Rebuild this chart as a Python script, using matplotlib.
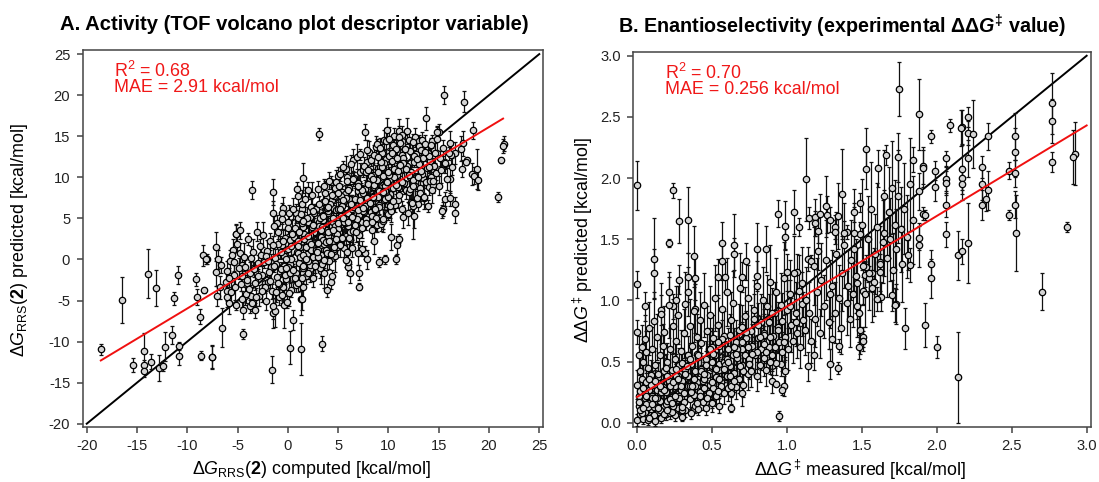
"""Activity and enantioselectivity parity plots"""
import matplotlib
matplotlib.use('Agg')
import matplotlib.pyplot as plt

plt.rcParams['font.family'] = ['Liberation Sans', 'DejaVu Sans']
plt.rcParams['mathtext.fontset'] = 'custom'
plt.rcParams['mathtext.rm'] = 'Liberation Sans'
plt.rcParams['mathtext.it'] = 'Liberation Sans:italic'
plt.rcParams['mathtext.bf'] = 'Liberation Sans:bold'
plt.rcParams['mathtext.bfit'] = 'Liberation Sans:italic:bold'
plt.rcParams['axes.unicode_minus'] = False

# Panel A: separated points
a_x = [-18.6,-16.5,-15.4,-14.3,-14.3,-14.3,-13.9,-13.6,-13.1,-12.8,-12.4,-12.2,-11.5,-11.3,-10.9,-10.8,-10.8,
       -9.1,-9.0,-8.7,-8.6,-8.4,-8.3,-8.0,-8.1,-7.5,-7.5,-7.1,-7.1,-7.0,-6.9,-6.7,-6.6,-6.5,-6.2,-6.1,-6.1,-6.1,
       -5.9,-5.8,-5.7,-5.5,-5.4,-5.4,-5.2,-5.2,-4.8,-4.55,-4.55,-4.5,-4.5,-4.3,-4.1,-3.8,-3.65,-3.25,-1.55,-1.5,
       -1.3,-0.4,0.25,0.5,1.3,1.3,1.5,3.4,7.1,3.9,4.3,4.4,1.4,6.2,7.1,9.1,9.7,10.8,10.9,11.1,10.3,8.6,7.9,7.7,7.4,
       7.0,6.0,5.95,5.8,5.6,6.4,4.7,4.6,4.4,3.3,3.6,3.9,2.2,1.5,
       3.1,15.5,17.5,13.7,18.4,15.0,14.8,7.7,9.9,10.6,11.1,11.8,11.3,12.65,9.6,13.05,21.5,21.4,21.2,20.9,17.45,
       17.2,16.1,16.6,16.2,17.8,17.7,17.3,16.3,15.6,18.8,18.35,18.5,18.9,16.1,15.6,16.1,16.6,16.6,15.45,15.3,
       13.5,13.9,12.9,12.4,12.55,-3.6,-1.5,-1.5,1.55,0.9,1.0,2.0,-0.5,-0.6,0.8,1.45,-5.2,-4.8,-1.1,0.05]
a_y = [-10.95,-4.95,-12.86,-11.15,-12.9,-13.55,-1.75,-12.45,-3.5,-13.2,-13.0,-10.6,-9.2,-4.75,-1.85,-10.55,-11.8,
       -2.4,-4.6,-6.95,-11.7,0.5,-3.75,0.1,0.0,-11.85,-11.9,1.55,-1.5,-4.45,0.0,-3.4,-0.65,-8.3,-2.7,-1.4,-3.8,-4.55,
       -5.3,-0.2,-4.0,1.15,-0.3,-1.9,-5.6,3.1,0.75,-0.7,-2.0,-6.1,-9.1,-4.5,-2.85,-5.7,-4.5,-6.2,-13.4,-6.55,
       -6.25,-5.6,-10.75,-7.4,-10.9,-4.8,-3.3,-10.25,-3.3,-3.75,-2.8,-2.0,-4.8,-1.7,-1.6,-0.35,0.0,0.0,1.8,2.55,2.7,2.2,0.0,0.8,1.3,
       0.8,-0.9,-0.3,-0.1,1.35,1.35,0.4,1.0,2.85,-1.4,-1.7,-0.1,-1.4,-1.7,
       15.3,20.05,19.2,17.2,15.7,15.5,15.5,15.5,15.75,15.0,15.65,15.65,15.2,14.85,14.5,14.4,14.1,13.8,12.1,7.6,14.15,
       13.5,14.15,12.95,12.75,12.1,11.85,11.05,11.3,11.6,11.0,10.4,10.2,9.7,9.8,7.35,7.45,6.7,5.7,6.15,5.85,
       7.45,6.5,6.8,6.5,5.3,8.4,8.2,5.6,9.9,8.6,7.75,8.4,6.3,5.6,5.6,6.1,3.15,3.55,4.4,4.6]
a_err = [0.7,2.8,0.9,2.2,0.7,0.8,3.0,0.9,2.2,1.6,0.6,1.8,1.1,0.8,1.1,0.5,1.0,
         0.8,1.0,0.9,0.6,1.3,0.3,0.6,0.6,1.4,1.4,1.8,1.7,1.2,1.2,1.4,1.0,2.4,1.3,1.2,1.2,1.2,
         1.3,1.4,1.2,1.3,1.1,1.2,0.5,1.2,1.2,1.1,1.0,1.1,0.6,1.1,0.9,0.8,1.0,0.9,1.7,1.8,
         2.0,2.8,2.0,1.2,3.2,2.0,1.8,0.9,0.4,0.8,0.8,0.7,1.4,1.2,0.9,0.6,0.6,0.6,1.1,0.6,1.6,1.5,1.2,0.8,0.9,
         1.5,1.0,0.9,0.8,1.0,1.0,1.9,1.2,1.1,1.6,1.8,1.2,1.0,0.9,
         0.7,1.1,1.3,1.4,1.0,1.0,0.8,1.0,1.5,1.0,1.5,1.6,1.0,1.1,1.2,0.8,0.9,0.9,0.3,0.6,1.5,
         1.5,1.5,1.3,1.2,0.3,0.4,1.0,1.0,0.6,2.4,1.3,1.0,1.2,1.7,0.9,0.9,0.9,1.3,0.9,0.8,
         0.7,0.7,0.9,4.0,1.5,1.1,1.6,1.5,1.8,0.8,1.2,1.0,1.3,1.3,1.2,1.0,1.0,1.0,1.0,1.0]

# Panel A: the dense cloud, estimated
a_cloud_x = [-5.9,-5.6,-5.3,-5.1,-4.9,-4.7,-4.4,-4.2,-4.0,-3.8,-3.6,-3.5,-3.3,-3.1,-3.0,
             -2.9,-2.8,-2.6,-2.5,-2.4,-2.2,-2.1,-2.0,-1.8,-1.7,-1.6,-1.4,-1.3,-1.1,-1.0,
             -0.9,-0.8,-0.7,-0.6,-0.5,-0.4,-0.3,-0.2,-0.1,0.0,0.1,0.2,0.3,0.4,0.5,
             0.1,0.2,0.3,0.5,0.6,0.7,0.8,0.9,1.0,1.1,1.2,1.3,1.4,1.5,1.5,
             1.0,1.2,1.3,1.5,1.6,1.7,1.8,1.9,2.0,2.1,2.2,2.3,2.4,2.5,2.5,
             2.0,2.2,2.3,2.4,2.6,2.7,2.8,2.9,3.0,3.1,3.2,3.3,3.4,3.5,3.5,
             3.0,3.1,3.3,3.4,3.5,3.6,3.7,3.8,3.9,4.0,4.1,4.2,4.3,4.4,4.5,
             3.6,3.7,3.8,3.9,4.0,4.1,4.3,4.4,4.5,4.6,4.7,4.8,4.9,5.0,5.0,
             4.5,4.6,4.7,4.8,4.9,5.0,5.1,5.2,5.3,5.4,5.5,5.6,5.7,5.8,5.9,
             5.0,5.1,5.2,5.4,5.5,5.6,5.7,5.8,5.9,6.0,6.1,6.2,6.3,6.4,6.5,
             6.0,6.1,6.2,6.3,6.4,6.5,6.6,6.7,6.8,6.9,7.0,7.1,7.2,7.3,7.4,
             7.0,7.1,7.2,7.3,7.4,7.5,7.6,7.7,7.8,7.9,8.0,8.1,8.2,8.3,8.4,
             7.5,7.6,7.7,7.8,7.9,8.0,8.2,8.3,8.4,8.5,8.6,8.7,8.8,8.9,9.0,
             8.5,8.6,8.7,8.8,8.9,9.0,9.1,9.2,9.3,9.4,9.5,9.6,9.7,9.8,9.9,
             9.0,9.1,9.2,9.4,9.5,9.6,9.7,9.8,9.9,10.0,10.1,10.2,10.3,10.4,10.5,
             10.0,10.1,10.2,10.3,10.4,10.5,10.6,10.7,10.8,10.9,11.0,11.1,11.2,11.3,11.4,
             11.0,11.1,11.2,11.3,11.4,11.5,11.6,11.7,11.8,11.9,12.0,12.1,12.2,12.3,12.4,
             12.0,12.1,12.2,12.3,12.4,12.5,12.6,12.7,12.8,12.9,13.0,13.1,13.2,13.3,13.4,
             13.0,13.1,13.2,13.3,13.4,13.5,13.6,13.7,13.8,13.9,14.0,14.1,14.2,14.3,14.4,
             14.0,14.1,14.2,14.3,14.5,14.6,14.7,14.8,15.0,15.1,15.2,15.4,15.6,15.8,16.0,
             # tighter part of the band
             -4.6,-4.3,-4.1,-3.9,-3.7,-3.4,-3.2,-2.7,-2.3,-1.9,-1.5,-1.2,-0.9,-0.6,-0.3,
             -3.0,-2.6,-2.2,-1.8,-1.4,-1.0,-0.6,-0.2,0.2,0.6,1.0,1.4,1.8,2.2,2.6,
             -2.0,-1.5,-1.0,-0.5,0.0,0.4,0.8,1.2,1.6,2.0,2.4,2.8,3.2,3.6,4.0,
             -1.2,-0.7,-0.2,0.3,0.7,1.1,1.5,1.9,2.3,2.7,3.1,3.5,3.9,4.3,4.7,
             0.0,0.5,1.0,1.4,1.8,2.2,2.6,3.0,3.4,3.8,4.2,4.6,5.0,5.4,5.8,
             1.0,1.5,2.0,2.5,2.9,3.3,3.7,4.1,4.5,4.9,5.3,5.7,6.1,6.5,6.9,
             2.5,3.0,3.5,4.0,4.4,4.8,5.2,5.6,6.0,6.4,6.8,7.2,7.6,8.0,8.4,
             4.0,4.5,5.0,5.5,5.9,6.3,6.7,7.1,7.5,7.9,8.3,8.7,9.1,9.5,9.9,
             5.5,6.0,6.5,7.0,7.4,7.8,8.2,8.6,9.0,9.4,9.8,10.2,10.6,11.0,11.4,
             7.0,7.5,8.0,8.5,8.9,9.3,9.7,10.1,10.5,10.9,11.3,11.7,12.1,12.5,12.9,
             8.5,9.0,9.5,10.0,10.4,10.8,11.2,11.6,12.0,12.4,12.8,13.2,13.6,14.0,14.4]
a_cloud_y = [-2.2,0.6,-3.4,1.9,-1.1,-3.0,0.3,-4.2,2.5,-1.7,-5.3,0.9,-2.9,3.4,-0.4,
             -4.4,1.6,-1.9,3.0,-0.3,-5.0,1.0,-2.8,2.2,-0.9,-3.9,4.1,0.2,-2.1,3.3,
             -4.6,1.5,-1.2,4.9,-3.3,0.4,2.6,-2.4,-5.2,1.3,5.6,-0.6,-3.7,3.4,-1.6,
             -4.1,2.4,0.1,6.2,-1.8,3.8,-3.1,0.9,5.1,-0.4,-2.6,2.1,6.8,-1.1,4.0,
             -2.9,1.5,5.5,-0.8,3.1,7.3,-2.0,0.7,4.6,2.2,-1.2,6.4,3.6,0.3,-2.3,
             -1.6,5.2,1.1,7.9,3.3,-0.4,6.1,2.0,8.6,4.5,-1.1,0.6,3.0,7.0,5.4,
             0.3,6.7,2.7,-0.6,4.8,8.9,3.5,1.2,7.6,5.6,-0.2,2.4,9.4,4.1,6.3,
             1.9,8.1,3.6,0.8,5.9,9.6,2.6,7.2,4.5,1.3,8.7,6.0,3.2,10.2,5.0,
             2.2,7.7,4.1,9.4,1.5,6.1,3.3,10.4,5.3,8.2,2.6,7.1,4.4,11.0,0.9,
             3.7,9.0,1.8,6.5,11.2,4.7,8.0,2.9,10.0,5.6,7.3,3.4,9.5,6.4,12.1,
             4.1,8.7,2.5,11.6,6.1,3.5,9.9,7.4,5.0,12.5,8.3,3.0,10.7,6.7,4.6,
             9.3,5.4,12.8,7.8,3.8,10.9,6.2,8.6,4.9,11.9,7.0,13.1,9.8,5.8,3.6,
             8.1,11.4,6.5,4.4,13.3,9.2,7.4,12.1,5.3,10.3,8.8,6.0,13.7,4.2,11.1,
             7.7,12.7,9.6,5.0,14.0,8.5,6.6,11.3,4.3,13.0,10.1,7.2,9.0,12.2,5.7,
             10.7,6.4,13.6,8.3,4.7,11.8,7.3,14.4,9.4,5.5,12.6,8.0,10.2,6.9,13.9,
             7.6,14.7,9.8,5.9,12.0,8.7,11.0,6.6,13.4,10.3,7.2,14.9,9.1,12.7,5.2,
             10.8,7.9,14.2,6.1,12.4,9.3,13.5,8.4,11.4,5.6,14.6,10.0,7.0,12.9,9.7,
             8.2,13.2,10.6,6.9,14.3,11.9,9.0,12.8,7.5,10.2,13.8,8.7,11.2,14.5,9.9,
             11.6,8.1,13.3,10.4,12.4,7.6,14.1,9.4,11.1,13.0,8.8,12.0,10.0,14.4,9.1,
             12.6,9.6,13.9,8.4,11.4,13.0,10.5,14.7,9.0,12.3,10.9,13.6,11.7,9.8,12.9,
             # tighter part of the band
             -4.8,-0.9,-2.5,-3.6,0.2,-1.2,-4.6,0.5,-3.3,-1.5,-5.7,-0.5,-3.0,1.7,-1.9,
             -2.0,-3.9,0.4,-2.6,-0.8,1.9,-4.3,0.0,-1.7,2.7,0.8,-2.2,1.5,-0.7,3.8,
             -0.2,1.8,-2.9,2.3,-0.9,3.1,-1.6,0.3,2.5,-0.2,4.0,1.2,5.0,-0.1,2.8,
             -4.0,0.9,-1.0,1.6,-2.3,3.4,0.5,5.1,1.9,-0.8,4.1,2.4,6.3,0.7,3.2,
             3.8,-1.3,2.2,4.4,0.1,3.0,5.6,1.1,3.9,2.1,6.7,1.5,4.4,2.6,7.5,
             1.6,4.7,2.8,5.9,0.9,3.6,7.1,2.3,5.0,3.1,7.7,4.4,2.6,6.4,4.9,
             4.2,2.0,5.3,3.4,7.8,2.5,6.1,4.5,8.4,5.2,3.3,7.2,5.8,9.2,4.6,
             6.4,3.6,8.1,5.0,9.5,6.8,4.2,8.8,5.9,7.5,10.2,6.2,8.3,4.9,9.4,
             7.2,4.6,9.8,6.0,8.4,10.6,6.9,9.1,7.6,11.2,8.2,6.5,10.0,8.8,11.8,
             8.9,6.3,10.9,7.6,9.7,11.9,8.3,10.3,7.1,12.3,9.4,11.0,8.6,12.6,10.0,
             9.8,12.5,8.2,10.7,12.9,9.1,11.5,13.5,10.3,8.9,12.2,10.8,13.1,11.3,9.5]
a_cloud_err = [1.2,0.8,1.5,1.0,1.3,0.9,1.7,1.1,0.7,1.4,1.0,1.6,0.8,1.2,1.0,
               1.3,0.9,1.1,1.5,0.8,1.2,1.4,0.7,1.0,1.6,0.9,1.2,1.1,1.3,0.8,
               1.0,1.4,0.9,1.2,1.7,0.8,1.1,1.3,0.7,1.5,1.0,1.2,0.9,1.4,1.1,
               1.6,0.8,1.2,1.3,1.0,1.5,0.9,1.1,0.7,1.4,1.2,1.0,1.6,0.8,1.3,
               1.1,0.9,1.4,1.2,0.8,1.5,1.0,1.3,0.7,1.1,1.6,0.9,1.2,1.4,1.0,
               0.8,1.3,1.1,1.5,0.9,1.2,0.7,1.4,1.0,1.6,1.1,0.8,1.3,1.2,0.9,
               1.5,1.0,0.8,1.2,1.4,0.9,1.1,1.7,0.7,1.3,1.0,1.5,0.8,1.2,1.1,
               0.9,1.4,1.2,0.7,1.6,1.0,1.3,0.8,1.1,1.5,0.9,1.2,1.4,1.0,0.7,
               1.3,0.8,1.1,1.5,1.0,1.2,1.7,0.9,1.4,0.7,1.1,1.3,0.8,1.6,1.0,
               1.2,0.9,1.5,1.0,0.8,1.3,1.1,1.6,0.7,1.4,1.2,0.9,1.0,1.5,1.3,
               0.8,1.2,1.4,1.1,0.9,1.6,0.7,1.3,1.0,1.5,0.8,1.2,1.1,1.4,0.9,
               1.3,1.0,0.7,1.5,1.2,0.9,1.4,1.1,0.8,1.6,1.0,1.3,0.7,1.2,1.5,
               0.9,1.1,1.4,0.8,1.3,1.0,1.6,0.7,1.2,1.5,0.9,1.1,1.3,0.8,1.4,
               1.0,1.2,0.9,1.5,0.7,1.3,1.1,1.6,0.8,1.0,1.4,1.2,0.9,1.3,0.7,
               1.5,1.0,1.2,0.8,1.4,1.1,0.9,1.6,1.3,0.7,1.0,1.2,1.5,0.8,1.1,
               0.9,1.4,0.7,1.3,1.1,1.6,1.0,0.8,1.2,1.5,0.9,1.3,1.1,0.7,1.4,
               1.2,0.8,1.5,1.0,0.9,1.3,1.7,1.1,0.7,1.4,1.0,1.2,0.9,1.6,0.8,
               1.3,1.1,0.9,1.4,1.0,0.7,1.5,1.2,0.8,1.3,1.1,1.6,0.9,1.0,1.2,
               0.8,1.4,1.1,0.9,1.2,1.5,1.0,0.7,1.3,1.1,0.9,1.4,1.2,0.8,1.0,
               1.1,1.3,0.9,1.5,1.0,1.2,0.8,1.4,1.1,0.9,1.6,1.0,1.2,1.3,0.8,
               # tighter part of the band
               1.0,0.8,1.2,0.7,1.4,0.9,1.1,1.3,0.8,1.0,1.5,0.7,1.2,0.9,1.1,
               0.8,1.3,0.9,1.1,0.7,1.4,1.0,0.8,1.2,0.9,1.5,0.7,1.1,1.0,1.3,
               0.9,1.1,0.8,1.3,1.0,0.7,1.4,0.9,1.2,0.8,1.1,1.5,0.7,1.0,1.3,
               1.2,0.7,1.0,1.4,0.8,1.1,0.9,1.3,0.7,1.2,1.0,0.8,1.5,0.9,1.1,
               0.7,1.3,0.9,1.1,1.4,0.8,1.0,1.2,0.7,1.5,0.9,1.1,0.8,1.3,1.0,
               1.1,0.8,1.4,0.9,1.2,0.7,1.0,1.3,0.8,1.1,1.5,0.9,1.2,0.7,1.0,
               0.9,1.2,0.7,1.3,1.0,0.8,1.4,1.1,0.9,0.7,1.2,1.5,0.8,1.0,1.3,
               1.3,0.9,1.1,0.7,1.2,1.0,0.8,1.4,0.9,1.1,0.7,1.3,1.0,1.2,0.8,
               0.8,1.1,0.9,1.4,0.7,1.2,1.0,0.8,1.3,0.9,1.1,1.5,0.7,1.0,1.2,
               1.0,1.3,0.8,1.1,0.9,0.7,1.4,1.0,1.2,0.8,1.1,0.9,1.3,0.7,1.0,
               1.2,0.7,1.0,0.9,1.3,1.1,0.8,1.2,0.7,1.4,1.0,0.9,1.1,0.8,1.2]

# Panel B: separated points
b_x = [1.75,1.88,1.53,1.53,1.66,1.74,1.84,1.61,1.96,2.09,2.17,2.16,2.21,2.21,2.24,2.34,2.21,2.17,2.17,2.17,
       2.06,2.06,2.06,2.06,2.06,1.99,1.99,1.91,1.91,1.88,1.91,1.92,2.3,2.3,2.34,2.33,2.3,2.48,2.48,2.52,2.52,
       2.52,2.52,2.53,2.77,2.77,2.77,2.92,2.91,2.87,
       2.70,2.14,2.0,1.92,1.79,1.96,1.96,2.14,2.17,2.21,1.88,1.88,1.82,1.81,1.73,1.72,1.7,1.63,1.6,1.51,1.51,1.51,
       1.49,1.48,1.62,1.62,1.57,1.53,1.52,1.55,1.58,
       0.95,0.0,0.21,0.11,0.11,0.0,0.57,0.65,0.65,0.38,0.8,0.86,0.73,0.57,0.28,0.21,0.34,0.39,0.34,0.05,0.16,0.26,
       0.24,0.39,0.54,0.59,0.7,0.8,1.0,1.07,1.14,1.16,1.21,1.29,1.34,1.35,1.14,1.18,0.9,0.93,0.98,0.97,0.99,0.96,
       0.93,0.89,0.63,0.63,0.7,0.5,0.46,
       0.0,0.24,0.28,0.34,0.94,0.99,1.05,1.08,1.13,1.15,1.19,1.22,1.19,1.21,1.26,1.27,1.29,1.34,1.37,1.32,1.32,
       1.45,1.49,1.49,1.4,1.38,0.99]
b_y = [2.73,2.52,2.24,2.07,2.19,2.17,2.15,2.08,2.34,2.43,2.42,2.41,2.5,2.37,2.36,2.34,2.16,2.07,2.0,1.95,
       2.16,1.99,1.96,1.78,1.54,2.06,1.93,2.1,2.08,1.89,1.71,1.7,2.09,1.95,1.9,1.83,1.78,2.06,1.7,2.34,2.21,
       2.04,1.78,1.55,2.61,2.47,2.13,2.2,2.17,1.6,
       1.07,0.37,0.62,0.8,0.77,1.18,1.3,1.37,1.4,1.47,1.51,1.45,1.29,1.37,0.97,0.96,1.04,1.03,1.01,1.08,0.7,0.67,
       0.76,0.62,1.23,1.31,1.22,1.27,1.21,1.18,1.15,
       0.055,1.13,1.47,1.34,1.22,0.74,1.47,1.45,1.38,1.36,1.42,1.42,1.32,1.32,1.17,1.07,1.19,1.18,1.07,0.95,0.92,1.0,
       0.95,0.93,1.19,1.19,1.19,1.2,1.23,1.23,1.34,1.32,1.4,0.48,0.45,0.63,0.46,0.55,0.34,0.32,0.3,0.27,0.42,0.48,
       0.49,0.5,0.12,0.24,0.24,0.17,0.17,
       1.94,1.9,1.65,1.66,1.71,1.61,1.72,1.6,1.99,1.67,1.68,1.71,1.63,1.57,1.77,1.7,1.66,1.69,1.87,1.6,1.56,
       1.72,1.8,1.54,1.56,1.55,1.52]
b_err = [0.22,0.29,0.17,0.16,0.08,0.2,0.1,0.15,0.05,0.05,0.14,0.15,0.08,0.1,0.28,0.11,0.15,0.2,0.1,0.13,
         0.06,0.1,0.1,0.1,0.1,0.08,0.12,0.15,0.15,0.15,0.05,0.04,0.09,0.13,0.16,0.1,0.12,0.07,0.04,0.19,0.2,
         0.11,0.11,0.31,0.25,0.18,0.08,0.26,0.22,0.04,
         0.15,0.37,0.09,0.18,0.17,0.16,0.11,0.2,0.1,0.33,0.1,0.18,0.14,0.12,0.16,0.14,0.13,0.12,0.1,0.11,0.08,0.08,
         0.2,0.1,0.15,0.1,0.15,0.1,0.1,0.1,0.28,
         0.04,0.11,0.03,0.33,0.2,0.1,0.17,0.26,0.13,0.25,0.21,0.19,0.15,0.15,0.12,0.12,0.2,0.18,0.2,0.12,0.12,0.12,
         0.1,0.2,0.15,0.12,0.12,0.12,0.15,0.15,0.1,0.05,0.15,0.12,0.05,0.05,0.12,0.12,0.1,0.02,0.08,0.04,0.12,0.1,
         0.1,0.1,0.03,0.1,0.1,0.05,0.07,
         0.2,0.06,0.18,0.27,0.11,0.2,0.18,0.07,0.34,0.09,0.15,0.16,0.1,0.1,0.25,0.15,0.1,0.27,0.37,0.1,0.1,
         0.08,0.08,0.1,0.06,0.1,0.1]

# Panel B: the dense cloud, estimated
b_cloud_x = [0.0,0.0,0.01,0.01,0.01,0.02,0.02,0.02,0.03,0.03,0.03,0.04,0.04,0.05,0.05,
             0.05,0.06,0.06,0.07,0.07,0.07,0.08,0.08,0.09,0.09,0.1,0.1,0.1,0.11,0.11,
             0.11,0.12,0.12,0.13,0.13,0.14,0.14,0.15,0.15,0.16,0.16,0.17,0.17,0.18,0.18,
             0.18,0.19,0.19,0.2,0.2,0.21,0.21,0.22,0.22,0.23,0.23,0.24,0.24,0.25,0.25,
             0.25,0.26,0.26,0.27,0.27,0.28,0.28,0.29,0.29,0.3,0.3,0.31,0.31,0.32,0.32,
             0.32,0.33,0.34,0.34,0.35,0.35,0.36,0.36,0.37,0.37,0.38,0.38,0.39,0.39,0.4,
             0.4,0.41,0.41,0.42,0.42,0.43,0.43,0.44,0.44,0.45,0.45,0.46,0.46,0.47,0.47,
             0.47,0.48,0.49,0.49,0.5,0.5,0.51,0.51,0.52,0.52,0.53,0.53,0.54,0.55,0.55,
             0.55,0.56,0.57,0.57,0.58,0.58,0.59,0.6,0.6,0.61,0.61,0.62,0.63,0.63,0.64,
             0.64,0.65,0.66,0.66,0.67,0.68,0.68,0.69,0.7,0.7,0.71,0.72,0.72,0.73,0.74,
             0.74,0.75,0.76,0.76,0.77,0.78,0.79,0.8,0.8,0.81,0.82,0.83,0.83,0.84,0.85,
             0.85,0.86,0.87,0.88,0.88,0.89,0.9,0.91,0.92,0.92,0.93,0.94,0.95,0.96,0.97,
             0.97,0.98,0.99,1.0,1.01,1.02,1.03,1.04,1.05,1.06,1.07,1.08,1.09,1.1,1.11,
             1.1,1.12,1.13,1.15,1.16,1.18,1.19,1.2,1.22,1.23,1.25,1.26,1.28,1.29,1.3,
             1.3,1.32,1.33,1.35,1.36,1.37,1.38,1.4,1.41,1.42,1.43,1.44,1.45,1.46,1.47,
             1.45,1.47,1.48,1.5,1.51,1.52,1.54,1.55,1.56,1.57,1.59,1.6,1.62,1.64,1.65,
             1.65,1.67,1.68,1.69,1.7,1.71,1.72,1.73,1.74,1.76,1.77,1.78,1.8,1.82,1.84,
             # tighter low end
             0.01,0.03,0.05,0.07,0.09,0.11,0.13,0.15,0.17,0.19,0.21,0.23,0.25,0.27,0.29,
             0.02,0.04,0.06,0.08,0.1,0.12,0.14,0.16,0.18,0.2,0.22,0.24,0.26,0.28,0.3,
             0.04,0.08,0.12,0.16,0.2,0.24,0.28,0.32,0.36,0.4,0.44,0.48,0.52,0.56,0.6,
             0.06,0.1,0.14,0.18,0.22,0.26,0.3,0.34,0.38,0.42,0.46,0.5,0.54,0.58,0.62,
             0.15,0.19,0.23,0.27,0.31,0.35,0.39,0.43,0.47,0.51,0.55,0.59,0.63,0.67,0.71,
             0.2,0.25,0.3,0.35,0.4,0.45,0.5,0.55,0.6,0.65,0.7,0.75,0.8,0.85,0.9,
             0.33,0.37,0.41,0.45,0.49,0.53,0.57,0.61,0.65,0.69,0.73,0.77,0.81,0.85,0.89,
             0.5,0.54,0.58,0.62,0.66,0.7,0.74,0.78,0.82,0.86,0.9,0.94,0.98,1.02,1.06]
b_cloud_y = [0.02,0.31,0.14,0.55,0.22,0.07,0.42,0.26,0.62,0.12,0.36,0.03,0.5,0.2,0.68,
             0.09,0.33,0.58,0.16,0.45,0.02,0.27,0.77,0.11,0.39,0.6,0.05,0.22,0.83,0.31,
             0.13,0.47,0.01,0.27,0.7,0.09,0.37,0.55,0.18,0.89,0.04,0.29,0.63,0.14,0.42,
             0.74,0.07,0.25,0.5,0.16,0.96,0.34,0.08,0.6,0.21,0.43,0.13,0.79,0.3,0.52,
             0.06,0.67,0.2,0.38,0.88,0.13,0.47,0.27,0.59,0.05,0.34,0.73,0.17,0.44,0.97,
             0.1,0.29,0.55,0.38,0.79,0.19,0.48,0.08,0.63,0.31,0.91,0.23,0.42,0.14,0.7,
             0.33,0.54,0.11,0.84,0.25,0.44,0.65,0.17,0.36,0.96,0.28,0.52,0.12,0.75,0.39,
             0.2,0.6,0.31,0.88,0.46,0.16,0.69,0.28,0.55,1.02,0.37,0.22,0.8,0.48,0.14,
             0.63,0.33,0.93,0.43,0.24,0.71,0.52,0.37,1.07,0.28,0.6,0.46,0.84,0.32,0.55,
             0.98,0.41,0.66,0.29,0.53,0.76,0.36,1.1,0.47,0.6,0.31,0.87,0.55,0.69,0.4,
             1.02,0.52,0.75,0.42,0.63,0.92,0.55,0.38,1.12,0.69,0.47,0.82,0.6,1.0,0.53,
             0.73,0.43,0.95,0.62,0.82,1.15,0.55,0.71,0.9,0.62,1.07,0.78,0.66,0.96,0.58,
             0.83,1.18,0.7,0.92,0.6,1.05,0.8,0.67,1.22,0.9,0.73,1.08,0.62,0.97,0.84,
             1.14,0.76,1.0,0.9,0.67,1.28,0.85,1.07,0.73,1.17,0.95,1.33,0.82,1.05,0.68,
             1.12,0.9,1.38,1.02,0.77,1.22,1.45,0.98,1.12,0.85,1.33,1.05,1.55,1.2,0.95,
             1.42,1.14,0.9,1.62,1.28,1.05,1.5,1.22,1.75,1.1,1.38,1.6,1.3,1.48,1.85,
             1.55,1.35,1.72,1.5,1.92,1.25,1.62,1.42,1.85,1.58,1.3,1.75,1.52,1.95,1.66,
             # tighter low end
             0.17,0.08,0.24,0.13,0.31,0.06,0.2,0.1,0.27,0.15,0.34,0.09,0.22,0.12,0.3,
             0.1,0.28,0.15,0.04,0.2,0.34,0.12,0.25,0.07,0.18,0.3,0.14,0.38,0.22,0.1,
             0.12,0.36,0.2,0.28,0.1,0.33,0.2,0.4,0.25,0.16,0.34,0.24,0.45,0.3,0.38,
             0.22,0.15,0.4,0.27,0.19,0.44,0.13,0.3,0.36,0.22,0.47,0.33,0.26,0.5,0.38,
             0.3,0.45,0.16,0.36,0.24,0.52,0.3,0.42,0.2,0.56,0.36,0.47,0.3,0.6,0.42,
             0.38,0.22,0.49,0.3,0.56,0.36,0.62,0.43,0.52,0.34,0.66,0.48,0.58,0.72,0.55,
             0.46,0.3,0.55,0.4,0.6,0.44,0.68,0.5,0.62,0.46,0.74,0.56,0.8,0.64,0.7,
             0.5,0.66,0.44,0.72,0.56,0.78,0.62,0.85,0.7,0.58,0.9,0.76,0.66,0.95,0.82]
b_cloud_err = [0.05,0.12,0.07,0.16,0.09,0.04,0.14,0.08,0.18,0.06,0.11,0.04,0.15,0.07,0.2,
               0.05,0.1,0.17,0.06,0.13,0.04,0.09,0.22,0.05,0.12,0.18,0.04,0.08,0.24,0.1,
               0.06,0.14,0.04,0.09,0.19,0.05,0.12,0.16,0.07,0.25,0.04,0.1,0.18,0.06,0.13,
               0.21,0.05,0.09,0.15,0.07,0.27,0.11,0.05,0.17,0.08,0.13,0.06,0.22,0.1,0.15,
               0.05,0.19,0.08,0.12,0.24,0.06,0.14,0.1,0.17,0.04,0.11,0.2,0.07,0.13,0.26,
               0.05,0.1,0.16,0.12,0.22,0.08,0.14,0.05,0.18,0.1,0.25,0.08,0.13,0.06,0.19,
               0.11,0.16,0.05,0.23,0.09,0.13,0.18,0.07,0.11,0.26,0.1,0.15,0.06,0.2,0.12,
               0.08,0.17,0.1,0.24,0.14,0.07,0.19,0.1,0.16,0.27,0.12,0.08,0.22,0.14,0.06,
               0.18,0.11,0.25,0.13,0.09,0.2,0.15,0.12,0.28,0.1,0.17,0.14,0.23,0.11,0.16,
               0.26,0.13,0.18,0.1,0.15,0.21,0.12,0.29,0.14,0.17,0.1,0.24,0.16,0.19,0.13,
               0.27,0.15,0.21,0.13,0.18,0.25,0.16,0.12,0.3,0.19,0.14,0.23,0.17,0.27,0.15,
               0.2,0.13,0.26,0.17,0.23,0.3,0.16,0.2,0.25,0.17,0.28,0.21,0.18,0.26,0.16,
               0.23,0.3,0.19,0.25,0.17,0.28,0.22,0.18,0.31,0.25,0.2,0.29,0.17,0.26,0.23,
               0.3,0.21,0.27,0.25,0.18,0.32,0.23,0.28,0.2,0.3,0.26,0.33,0.22,0.28,0.19,
               0.29,0.25,0.34,0.27,0.21,0.31,0.35,0.26,0.29,0.23,0.33,0.27,0.36,0.3,0.25,
               0.34,0.29,0.24,0.37,0.32,0.27,0.35,0.3,0.38,0.28,0.33,0.36,0.31,0.34,0.38,
               0.35,0.32,0.37,0.34,0.38,0.3,0.36,0.33,0.38,0.35,0.31,0.37,0.34,0.38,0.36,
               # tighter low end
               0.05,0.03,0.06,0.04,0.08,0.03,0.05,0.04,0.07,0.04,0.09,0.03,0.06,0.04,0.08,
               0.04,0.07,0.05,0.02,0.06,0.09,0.04,0.07,0.03,0.05,0.08,0.04,0.1,0.06,0.04,
               0.04,0.09,0.06,0.08,0.04,0.09,0.06,0.11,0.07,0.05,0.09,0.07,0.12,0.08,0.1,
               0.06,0.05,0.1,0.08,0.06,0.12,0.04,0.08,0.1,0.06,0.12,0.09,0.07,0.13,0.1,
               0.08,0.11,0.05,0.1,0.07,0.13,0.08,0.11,0.06,0.14,0.1,0.12,0.08,0.15,0.11,
               0.1,0.06,0.12,0.08,0.14,0.1,0.15,0.11,0.13,0.09,0.16,0.12,0.14,0.17,0.13,
               0.12,0.08,0.14,0.1,0.15,0.11,0.16,0.13,0.15,0.12,0.17,0.14,0.18,0.15,0.16,
               0.13,0.16,0.11,0.17,0.14,0.18,0.15,0.2,0.17,0.14,0.2,0.18,0.16,0.22,0.19]

# black y = x lines and red fit lines
a_black_x = [-20, 25]
a_black_y = [-20, 25]
a_red_x = [-18.6, 21.4]
a_red_y = [-12.3, 17.15]
b_black_x = [0, 3]
b_black_y = [0, 3]
b_red_x = [0, 3]
b_red_y = [0.21, 2.43]

a_ticks = [-20, -15, -10, -5, 0, 5, 10, 15, 20, 25]
b_ticks = [0.0, 0.5, 1.0, 1.5, 2.0, 2.5, 3.0]

W, H = 1099, 482
fig = plt.figure(figsize=(W / 100, H / 100), dpi=100)


def make_axes(left, top, right, bottom):
    ax = fig.add_axes([left / W, (H - bottom) / H, (right - left) / W, (bottom - top) / H])
    for s in ax.spines.values():
        s.set_linewidth(1.1)
        s.set_color('#444444')
    ax.tick_params(length=4, width=1.1, color='#444444', labelsize=10.6, labelcolor='#222222', pad=5)
    return ax


def draw_points(ax, x, y, err):
    ax.errorbar(x, y, yerr=err, fmt='o', ms=4.6, mfc='#d4d4d4', mec='black', mew=0.9,
                ecolor='#111111', elinewidth=0.9, capsize=1.3, capthick=0.8, zorder=3)


ax1 = make_axes(82.7, 50, 543, 427)
ax1.plot(a_black_x, a_black_y, color='black', lw=1.4, zorder=2)
draw_points(ax1, a_x, a_y, a_err)
draw_points(ax1, a_cloud_x, a_cloud_y, a_cloud_err)
ax1.plot(a_red_x, a_red_y, color='#f01010', lw=1.4, zorder=4)
ax1.set_xlim(-20.4, 25.37)
ax1.set_ylim(-20.4, 25.5)
ax1.set_xticks(a_ticks)
ax1.set_yticks(a_ticks)
ax1.text(-17.3, 23.0, 'R$^{2}$ = 0.68', color='#f01818', fontsize=12.9, va='center')
ax1.text(-17.3, 20.9, 'MAE = 2.91 kcal/mol', color='#f01818', fontsize=12.9, va='center')

ax2 = make_axes(633.3, 51.7, 1090.7, 426.7)
ax2.plot(b_black_x, b_black_y, color='black', lw=1.4, zorder=2)
draw_points(ax2, b_x, b_y, b_err)
draw_points(ax2, b_cloud_x, b_cloud_y, b_cloud_err)
ax2.plot(b_red_x, b_red_y, color='#f01010', lw=1.4, zorder=4)
ax2.set_xlim(-0.025, 3.027)
ax2.set_ylim(-0.033, 3.033)
ax2.set_xticks(b_ticks)
ax2.set_yticks(b_ticks)
ax2.set_xticklabels(['%.1f' % t for t in b_ticks])
ax2.set_yticklabels(['%.1f' % t for t in b_ticks])
ax2.text(0.187, 2.86, 'R$^{2}$ = 0.70', color='#f01818', fontsize=12.9, va='center')
ax2.text(0.187, 2.72, 'MAE = 0.256 kcal/mol', color='#f01818', fontsize=12.9, va='center')

# titles and axis labels placed by hand
fig.text(60 / W, 1 - 24 / H, 'A. Activity (TOF volcano plot descriptor variable)',
         fontsize=14.6, fontweight='bold', va='center', ha='left')
fig.text(618 / W, 1 - 26 / H, r'B. Enantioselectivity (experimental $\mathbf{\Delta\Delta}\mathbfit{G}^{\mathbf{\ddag}}$ value)',
         fontsize=14.2, fontweight='bold', va='center', ha='left')
fig.text(312 / W, 1 - 470 / H, r'$\Delta G_{\mathrm{RRS}}(\mathbf{2})$ computed [kcal/mol]',
         fontsize=12.9, ha='center', va='center')
fig.text(860 / W, 1 - 470 / H, r'$\Delta\Delta G^{\ddag}$ measured [kcal/mol]',
         fontsize=12.9, ha='center', va='center')
fig.text(20 / W, 1 - 240 / H, r'$\Delta G_{\mathrm{RRS}}(\mathbf{2})$ predicted [kcal/mol]',
         fontsize=12.9, rotation=90, ha='center', va='center')
fig.text(583 / W, 1 - 240 / H, r'$\Delta\Delta G^{\ddag}$ predicted [kcal/mol]',
         fontsize=12.9, rotation=90, ha='center', va='center')

fig.savefig('out.png', dpi=100)
